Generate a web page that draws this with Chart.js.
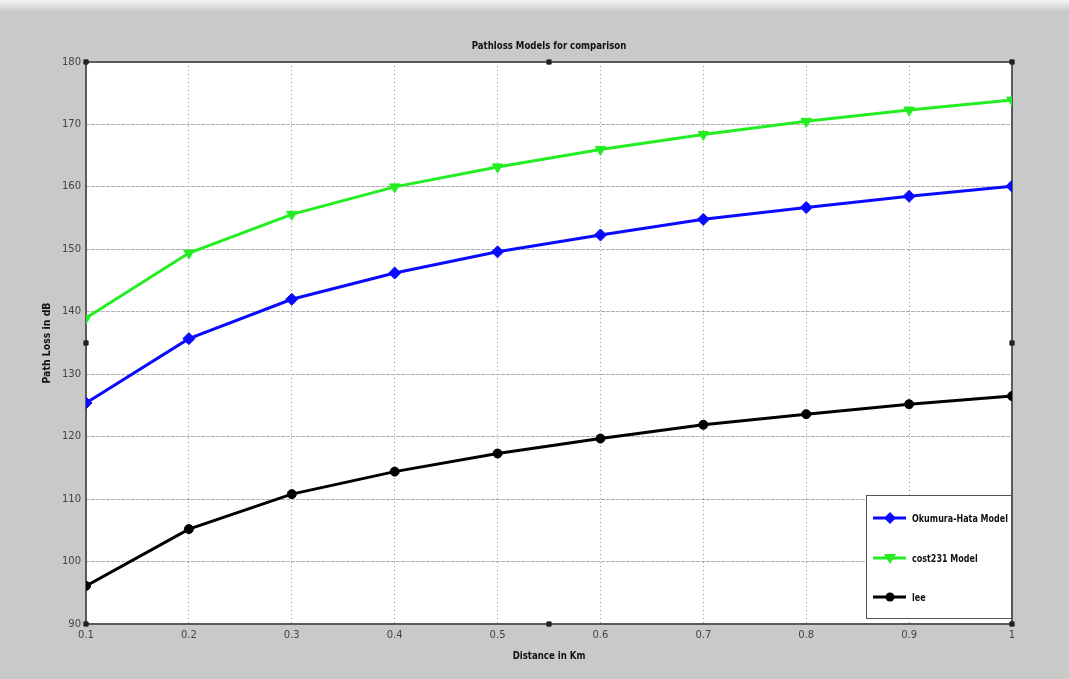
<!DOCTYPE html>
<html>
<head>
<meta charset="utf-8">
<script src="https://cdn.jsdelivr.net/npm/chart.js@4.4.0/dist/chart.umd.min.js"></script>
<style>
  html, body { margin: 0; padding: 0; background: #c9c9c9; overflow: hidden; }
  canvas { display: block; }
</style>
</head>
<body>
<canvas id="plot" width="1069" height="679"></canvas>
<script>
// data
var distance = [0.1, 0.2, 0.3, 0.4, 0.5, 0.6, 0.7, 0.8, 0.9, 1];
var okumuraHata = [125.4, 135.7, 142.0, 146.2, 149.6, 152.3, 154.8, 156.7, 158.5, 160.1];
var cost231 = [139.0, 149.4, 155.6, 160.0, 163.2, 166.0, 168.4, 170.5, 172.3, 173.9];
var lee = [96.1, 105.2, 110.8, 114.4, 117.3, 119.7, 121.9, 123.6, 125.2, 126.5];
var xTicks = [0.1, 0.2, 0.3, 0.4, 0.5, 0.6, 0.7, 0.8, 0.9, 1];
var yTicks = [90, 100, 110, 120, 130, 140, 150, 160, 170, 180];
// figure-editor selection handles
var handleX = [0.1, 0.55, 1, 0.1, 1, 0.1, 0.55, 1];
var handleY = [180, 180, 180, 135, 135, 90, 90, 90];

var labelFont = "'DejaVu Sans', 'Liberation Sans', sans-serif";

function pts(xs, ys) {
  var out = [];
  for (var i = 0; i < xs.length; i++) out.push({ x: xs[i], y: ys[i] });
  return out;
}

// text squeezed sideways, like the narrow matlab font
function narrowText(ctx, text, x, y, sx) {
  ctx.save();
  ctx.translate(x, y);
  ctx.scale(sx, 1);
  ctx.fillText(text, 0, 0);
  ctx.restore();
}

function drawMarker(ctx, style, x, y, color) {
  ctx.save();
  ctx.fillStyle = color;
  ctx.beginPath();
  if (style == "rectRot") {
    ctx.moveTo(x, y - 6); ctx.lineTo(x + 6, y); ctx.lineTo(x, y + 6); ctx.lineTo(x - 6, y);
  } else if (style == "triangle") {
    ctx.moveTo(x - 6, y - 4); ctx.lineTo(x + 6, y - 4); ctx.lineTo(x, y + 6);
  } else {
    ctx.arc(x, y, 4.5, 0, Math.PI * 2);
  }
  ctx.closePath();
  ctx.fill();
  ctx.restore();
}

var decorPlugin = {
  id: "decor",
  beforeDraw: function(chart) {
    var ctx = chart.ctx;
    ctx.save();
    ctx.fillStyle = "#c9c9c9";
    ctx.fillRect(0, 0, chart.width, chart.height);
    var g = ctx.createLinearGradient(0, 0, 0, 12);
    g.addColorStop(0, "#f4f4f4");
    g.addColorStop(1, "#c9c9c9");
    ctx.fillStyle = g;
    ctx.fillRect(0, 0, chart.width, 12);
    var a = chart.chartArea;
    ctx.fillStyle = "#ffffff";
    ctx.fillRect(a.left, a.top, a.right - a.left, a.bottom - a.top);
    ctx.restore();
  },
  beforeDatasetsDraw: function(chart) {
    var ctx = chart.ctx, a = chart.chartArea;
    ctx.save();
    ctx.strokeStyle = "#5a5a5a";
    ctx.lineWidth = 2;
    ctx.strokeRect(a.left, a.top, a.right - a.left, a.bottom - a.top);
    ctx.restore();
  },
  afterDraw: function(chart) {
    var ctx = chart.ctx, a = chart.chartArea;
    var cx = (a.left + a.right) / 2;
    ctx.save();
    ctx.fillStyle = "#111";
    ctx.textAlign = "center";
    ctx.textBaseline = "middle";
    ctx.font = "bold 11px " + labelFont;
    narrowText(ctx, "Pathloss Models for comparison", cx, 46, 0.78);
    narrowText(ctx, "Distance in Km", cx, 656, 0.78);
    ctx.translate(47, (a.top + a.bottom) / 2);
    ctx.rotate(-Math.PI / 2);
    narrowText(ctx, "Path Loss in dB", 0, 0, 0.85);
    ctx.restore();

    // legend box in the lower right corner
    var lw = 146, lh = 124;
    var lx = a.right - lw, ly = a.bottom - lh - 5;
    ctx.save();
    ctx.fillStyle = "#ffffff";
    ctx.fillRect(lx, ly, lw, lh);
    ctx.strokeStyle = "#555";
    ctx.lineWidth = 1;
    ctx.strokeRect(lx + 0.5, ly + 0.5, lw - 1, lh - 1);
    var rows = [ly + 23, ly + 63, ly + 102];
    var n = 0;
    chart.data.datasets.forEach(function(ds) {
      if (ds.hideInLegend) return;
      var y = rows[n++];
      ctx.strokeStyle = ds.borderColor;
      ctx.lineWidth = 3;
      ctx.beginPath();
      ctx.moveTo(lx + 7, y);
      ctx.lineTo(lx + 40, y);
      ctx.stroke();
      drawMarker(ctx, ds.pointStyle, lx + 24, y, ds.borderColor);
      ctx.fillStyle = "#111";
      ctx.font = "bold 10px " + labelFont;
      ctx.textAlign = "left";
      ctx.textBaseline = "middle";
      narrowText(ctx, ds.label, lx + 46, y + 1, 0.8);
    });
    ctx.restore();
  }
};

var ctx = document.getElementById("plot").getContext("2d");
var chart = new Chart(ctx, {
  type: "line",
  data: {
    datasets: [
      {
        label: "Okumura-Hata Model",
        data: pts(distance, okumuraHata),
        borderColor: "#0a0aff",
        backgroundColor: "#0a0aff",
        borderWidth: 3,
        pointStyle: "rectRot",
        pointRadius: 6,
        pointBorderWidth: 1,
        tension: 0
      },
      {
        label: "cost231 Model",
        data: pts(distance, cost231),
        borderColor: "#22ee22",
        backgroundColor: "#22ee22",
        borderWidth: 3,
        pointStyle: "triangle",
        pointRotation: 180,
        pointRadius: 6,
        pointBorderWidth: 1,
        tension: 0
      },
      {
        label: "lee",
        data: pts(distance, lee),
        borderColor: "#000000",
        backgroundColor: "#000000",
        borderWidth: 3,
        pointStyle: "circle",
        pointRadius: 4.5,
        pointBorderWidth: 1,
        tension: 0
      },
      {
        type: "scatter",
        label: "handles",
        hideInLegend: true,
        data: pts(handleX, handleY),
        backgroundColor: "#222",
        borderColor: "#222",
        pointStyle: "rect",
        pointRadius: 3,
        clip: false
      }
    ]
  },
  options: {
    responsive: false,
    animation: false,
    layout: { padding: { left: 46, right: 57, top: 62, bottom: 25 } },
    plugins: {
      legend: { display: false },
      title: { display: false },
      tooltip: { enabled: false }
    },
    scales: {
      x: {
        type: "linear",
        min: 0.1,
        max: 1,
        afterBuildTicks: function(scale) {
          scale.ticks = xTicks.map(function(v) { return { value: v }; });
        },
        afterFit: function(scale) { scale.height = 30; },
        ticks: {
          padding: 5,
          color: "#444",
          font: { family: labelFont, size: 10 },
          maxRotation: 0,
          callback: function(v) { return String(v); }
        },
        grid: { color: "#999", lineWidth: 1, drawTicks: false },
        border: { display: false, dash: [1, 3] }
      },
      y: {
        min: 90,
        max: 180,
        afterBuildTicks: function(scale) {
          scale.ticks = yTicks.map(function(v) { return { value: v }; });
        },
        afterFit: function(scale) { scale.width = 40; },
        ticks: {
          padding: 5,
          color: "#444",
          font: { family: labelFont, size: 10 }
        },
        grid: { color: "#b0b0b0", lineWidth: 1, drawTicks: false },
        border: { display: false, dash: [4, 1] }
      }
    }
  },
  plugins: [decorPlugin]
});
</script>
</body>
</html>
